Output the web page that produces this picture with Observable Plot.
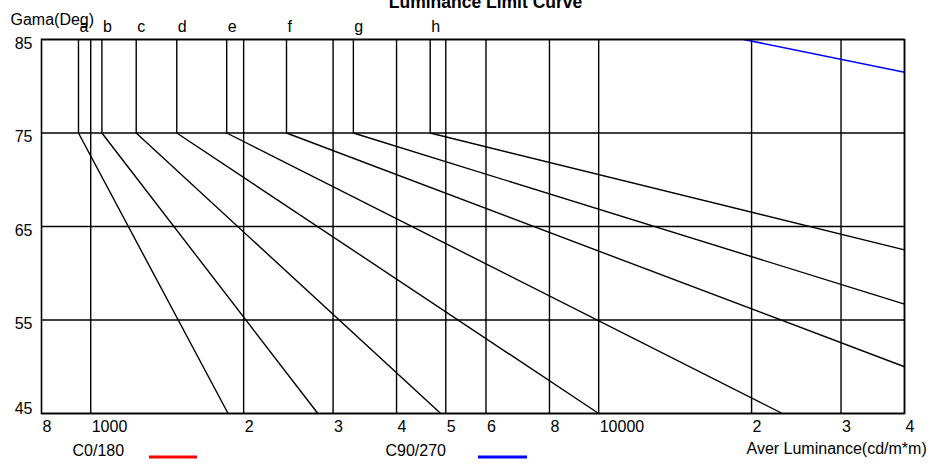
<!DOCTYPE html>
<html><head><meta charset="utf-8">
<script src="https://cdn.jsdelivr.net/npm/d3@7"></script>
<script src="https://cdn.jsdelivr.net/npm/@observablehq/plot@0.6"></script>
<style>body{margin:0;background:#fff} svg{display:block}</style>
</head><body><div id="chart"></div>
<script>
// Luminance limit curves a..h: vertical part 85->75 at start luminance, then a straight (log-x) line to the end point
const curveNames = ["a","b","c","d","e","f","g","h"];
const curveStartX = [946, 1052, 1229, 1477, 1852, 2429, 3289, 4659];
const curveEndX = [1864, 2800, 4887, 10000, 23000, 40000, 40000, 40000];
const curveEndY = [45, 45, 45, 45, 45, 50, 56.7, 62.5];
const curveTopY = 85;
const curveKneeY = 75;
// C90/270 (blue) curve
const c90X = [19300, 40000];
const c90Y = [85, 81.5];
// ticks
const xTickValues = [800, 1000, 2000, 3000, 4000, 5000, 6000, 8000, 10000, 20000, 30000, 40000];
const xTickLabels = ["8", "1000", "2", "3", "4", "5", "6", "8", "10000", "2", "3", "4"];
const yTickValues = [45, 55, 65, 75, 85];

const curveRows = curveNames.flatMap((name, i) => [
  {name, lum: curveStartX[i], gamma: curveTopY},
  {name, lum: curveStartX[i], gamma: curveKneeY},
  {name, lum: curveEndX[i], gamma: curveEndY[i]}
]);
const c90Rows = c90X.map((x, i) => ({lum: x, gamma: c90Y[i]}));
const labelRows = curveNames.map((name, i) => ({name, lum: curveStartX[i], gamma: curveTopY}));

const font = "'Liberation Sans', Arial, Helvetica, sans-serif";
const ML = 41, MT = 39, MB = 53, H = 466;
const plot = Plot.plot({
  width: 937, height: H,
  marginLeft: ML, marginRight: 33, marginTop: MT, marginBottom: MB,
  style: {fontFamily: font, fontSize: "16px", background: "#fff", color: "#000", overflow: "visible"},
  x: {type: "log", domain: [800, 40000], axis: null},
  y: {domain: [45, 85], axis: null},
  marks: [
    Plot.ruleX(xTickValues.slice(1), {stroke: "#000", strokeWidth: 1.4}),
    Plot.ruleY(yTickValues, {stroke: "#000", strokeWidth: 1.4}),
    Plot.line(curveRows, {x: "lum", y: "gamma", z: "name", stroke: "#000", strokeWidth: 1.4}),
    Plot.line(c90Rows, {x: "lum", y: "gamma", stroke: "#0000ff", strokeWidth: 1.5}),
    Plot.frame({stroke: "#000", strokeWidth: 1.6}),
    Plot.text(labelRows, {x: "lum", y: "gamma", text: "name", textAnchor: "start", lineAnchor: "bottom", dx: 1, dy: -7.5}),
    Plot.text(xTickValues, {x: d => d, frameAnchor: "bottom", text: (d, i) => xTickLabels[i], textAnchor: "start", lineAnchor: "bottom", dx: 1, dy: 18}),
    Plot.text(yTickValues.slice(1), {y: d => d, frameAnchor: "left", text: d => String(d), textAnchor: "end", lineAnchor: "bottom", dx: -9, dy: 9}),
    Plot.text(yTickValues.slice(0, 1), {y: d => d, frameAnchor: "left", text: d => String(d), textAnchor: "end", lineAnchor: "bottom", dx: -9, dy: 0}),
    Plot.text(["Luminance Limit Curve"], {frameAnchor: "top-left", text: d => d, dx: 485 - ML, dy: 7.5 - MT, textAnchor: "middle", lineAnchor: "bottom", fontWeight: "bold", fontSize: 17.5}),
    Plot.text(["Gama(Deg)"], {frameAnchor: "top-left", text: d => d, dx: 10 - ML, dy: 24 - MT, textAnchor: "start", lineAnchor: "bottom"}),
    Plot.text(["C0/180"], {frameAnchor: "bottom-left", text: d => d, dx: 72 - ML, dy: 455 - (H - MB), textAnchor: "start", lineAnchor: "bottom"}),
    Plot.text(["C90/270"], {frameAnchor: "bottom-left", text: d => d, dx: 385 - ML, dy: 455 - (H - MB), textAnchor: "start", lineAnchor: "bottom"}),
    Plot.text(["Aver Luminance(cd/m*m)"], {frameAnchor: "bottom-left", text: d => d, dx: 746 - ML, dy: 453.5 - (H - MB), textAnchor: "start", lineAnchor: "bottom"})
  ]
});
const svg = d3.select(plot);
svg.style("overflow", "hidden");
// legend swatches
svg.append("line").attr("x1", 149).attr("x2", 197).attr("y1", 457).attr("y2", 457).attr("stroke", "#ff0000").attr("stroke-width", 3);
svg.append("line").attr("x1", 478).attr("x2", 527).attr("y1", 457).attr("y2", 457).attr("stroke", "#0000ff").attr("stroke-width", 3);
document.getElementById("chart").appendChild(plot);
</script>
</body></html>
